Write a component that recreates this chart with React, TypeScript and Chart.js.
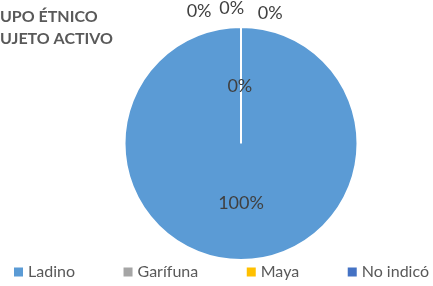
import React, { useEffect, useRef } from "react";
import { Chart, registerables } from "chart.js";

Chart.register(...registerables);

const titleLines = ["GRUPO ÉTNICO", "SUJETO ACTIVO"];
const titleHidden = ["GR", "S"];
const categories = ["Ladino", "Garífuna", "Maya", "No indicó", "Xinca"];
const values = [100, 0, 0, 0, 0];
const colors = ["#5B9BD5", "#A5A5A5", "#FFC000", "#4472C4", "#70AD47"];
const legendCount = 4;
const FONT = "Lato, 'Noto Sans', sans-serif";
// label placements for zero slices, relative to centre, in units of radius
const zeroPlacements = [
  [-0.01, -0.49],
  [-0.36, -1.14],
  [-0.08, -1.16],
  [0.25, -1.12],
];

const labelPlugin = {
  id: "customLabels",
  afterDraw(chart: any) {
    const ctx = chart.ctx;
    const meta = chart.getDatasetMeta(0);
    const total = values.reduce((a, b) => a + b, 0);
    ctx.save();
    ctx.fillStyle = "#404040";
    ctx.font = `18px ${FONT}`;
    ctx.textAlign = "center";
    ctx.textBaseline = "middle";
    let z = 0;
    meta.data.forEach((arc: any, i: number) => {
      const { x, y, startAngle, endAngle, outerRadius } = arc.getProps(
        ["x", "y", "startAngle", "endAngle", "outerRadius"],
        true
      );
      const pct = Math.round((values[i] / total) * 100) + "%";
      let lx, ly;
      if (values[i] > 0) {
        const mid = (startAngle + endAngle) / 2;
        lx = x + Math.cos(mid) * outerRadius * 0.5;
        ly = y + Math.sin(mid) * outerRadius * 0.5 + 1;
      } else {
        const p = zeroPlacements[z++ % zeroPlacements.length];
        lx = x + p[0] * outerRadius;
        ly = y + p[1] * outerRadius;
      }
      ctx.fillText(pct, lx, ly);
    });
    // title
    ctx.fillStyle = "#595959";
    ctx.textAlign = "left";
    ctx.textBaseline = "middle";
    ctx.font = `bold 16px ${FONT}`;
    titleLines.forEach((t, i) => {
      const off = ctx.measureText(titleHidden[i]).width;
      ctx.fillText(t, -off, 17 + i * 22);
    });
    // legend
    ctx.font = `16px ${FONT}`;
    const box = 9;
    const gap = 5;
    const left = 14;
    const right = 429;
    const widths = categories
      .slice(0, legendCount)
      .map((c) => box + gap + ctx.measureText(c).width);
    const sumW = widths.reduce((a, b) => a + b, 0);
    const spacing = (right - left - sumW) / (legendCount - 1);
    let lx = left;
    const ly = 272;
    for (let i = 0; i < legendCount; i++) {
      ctx.fillStyle = colors[i];
      ctx.fillRect(lx, ly - box / 2, box, box);
      ctx.fillStyle = "#595959";
      ctx.fillText(categories[i], lx + box + gap, ly);
      lx += widths[i] + spacing;
    }
    ctx.restore();
  },
};

export default function App() {
  const ref = useRef<HTMLCanvasElement>(null);
  useEffect(() => {
    document.body.style.margin = "0";
    const chart = new Chart(ref.current!, {
      type: "pie",
      data: {
        labels: categories,
        datasets: [
          {
            data: values,
            backgroundColor: colors,
            borderColor: "#FFFFFF",
            borderWidth: 2,
            hoverOffset: 0,
            offset: 0,
          },
        ],
      },
      options: {
        animation: false,
        responsive: false,
        layout: { padding: { left: 123.5, right: 74.5, top: 26, bottom: 25 } },
        plugins: {
          legend: { display: false },
          tooltip: { enabled: false },
          title: { display: false },
        },
      },
      plugins: [labelPlugin],
    });
    return () => chart.destroy();
  }, []);
  return <canvas ref={ref} width={433} height={286} style={{ display: "block" }} />;
}
